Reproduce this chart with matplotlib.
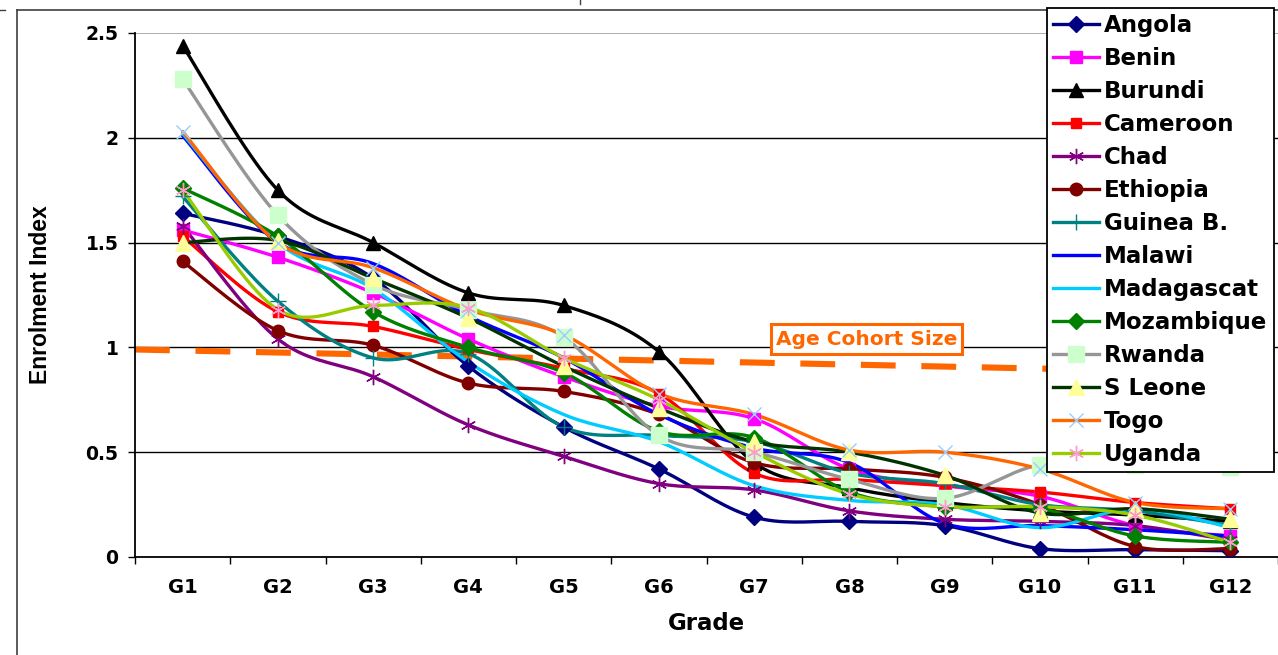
import matplotlib
matplotlib.use("Agg")
import matplotlib.pyplot as plt
from matplotlib.lines import Line2D
import numpy as np

plt.rcParams['font.family'] = ['DejaVu Sans']

grades = ["G1", "G2", "G3", "G4", "G5", "G6", "G7", "G8", "G9", "G10", "G11", "G12"]

angola = [1.64, 1.53, 1.33, 0.91, 0.62, 0.42, 0.19, 0.17, 0.15, 0.04, 0.035, 0.03]
benin = [1.56, 1.43, 1.26, 1.04, 0.86, 0.72, 0.66, 0.42, 0.34, 0.29, 0.15, 0.10]
burundi = [2.44, 1.75, 1.50, 1.26, 1.20, 0.98, 0.45, 0.33, 0.26, 0.22, 0.20, 0.17]
cameroon = [1.53, 1.17, 1.10, 0.99, 0.90, 0.78, 0.40, 0.37, 0.34, 0.31, 0.26, 0.23]
chad = [1.58, 1.04, 0.86, 0.63, 0.48, 0.35, 0.32, 0.22, 0.18, 0.17, 0.15, 0.08]
ethiopia = [1.41, 1.08, 1.01, 0.83, 0.79, 0.68, 0.45, 0.42, 0.38, 0.25, 0.05, 0.04]
guinea_b = [1.72, 1.22, 0.95, 0.97, 0.62, 0.58, 0.55, 0.40, 0.35, 0.25, 0.22, 0.15]
malawi = [2.01, 1.50, 1.40, 1.15, 0.95, 0.68, 0.52, 0.45, 0.16, 0.15, 0.13, 0.10]
madagascat = [2.02, 1.50, 1.28, 0.93, 0.68, 0.55, 0.34, 0.27, 0.25, 0.14, 0.23, 0.14]
mozambique = [1.76, 1.53, 1.17, 1.00, 0.88, 0.60, 0.57, 0.31, 0.24, 0.23, 0.10, 0.07]
rwanda = [2.28, 1.63, 1.30, 1.18, 1.05, 0.58, 0.50, 0.37, 0.28, 0.44, 0.44, 0.43]
s_leone = [1.50, 1.51, 1.33, 1.14, 0.91, 0.71, 0.55, 0.50, 0.39, 0.21, 0.23, 0.18]
togo = [2.03, 1.50, 1.38, 1.18, 1.06, 0.78, 0.68, 0.51, 0.50, 0.42, 0.26, 0.23]
uganda = [1.75, 1.18, 1.20, 1.19, 0.95, 0.75, 0.50, 0.30, 0.24, 0.24, 0.20, 0.07]

# age cohort reference line (left edge to right edge of the plot)
cohort_x = [-0.5, 11.5]
cohort_y = [0.99, 0.875]

series = [
    ("Angola", angola, dict(color="#000080", marker="D", mfc="#000080", mec="#000080", ms=8)),
    ("Benin", benin, dict(color="#FF00FF", marker="s", mfc="#FF00FF", mec="#FF00FF", ms=9)),
    ("Burundi", burundi, dict(color="#000000", marker="^", mfc="#000000", mec="#000000", ms=10)),
    ("Cameroon", cameroon, dict(color="#FF0000", marker="s", mfc="#FF0000", mec="#FF0000", ms=7)),
    ("Chad", chad, dict(color="#800080", marker=(6, 2, 0), mfc="#800080", mec="#800080", ms=11, mew=1)),
    ("Ethiopia", ethiopia, dict(color="#800000", marker="o", mfc="#800000", mec="#800000", ms=9)),
    ("Guinea B.", guinea_b, dict(color="#008080", marker="+", mec="#008080", ms=11, mew=1)),
    ("Malawi", malawi, dict(color="#0000FF", marker="None")),
    ("Madagascat", madagascat, dict(color="#00CCFF", marker="None")),
    ("Mozambique", mozambique, dict(color="#008000", marker="D", mfc="#008000", mec="#008000", ms=8)),
    ("Rwanda", rwanda, dict(color="#969696", marker="s", mfc="#CCFFCC", mec="#CCFFCC", ms=11)),
    ("S Leone", s_leone, dict(color="#003300", marker="^", mfc="#FFFF99", mec="#FFFF99", ms=11)),
    ("Togo", togo, dict(color="#FF6600", marker="x", mec="#99CCFF", ms=10, mew=1)),
    ("Uganda", uganda, dict(color="#99CC00", marker=(6, 2, 0), mec="#FF99CC", ms=11, mew=1)),
]


def smooth(xs, ys, n=20):
    """Catmull-Rom style bezier smoothing, like Excel's smoothed line."""
    xs = np.asarray(xs, float)
    ys = np.asarray(ys, float)
    px = np.concatenate([[xs[0]], xs, [xs[-1]]])
    py = np.concatenate([[ys[0]], ys, [ys[-1]]])
    outx, outy = [], []
    t = np.linspace(0, 1, n)
    for i in range(1, len(px) - 2):
        p0 = np.array([px[i], py[i]])
        p3 = np.array([px[i + 1], py[i + 1]])
        p1 = p0 + (p3 - np.array([px[i - 1], py[i - 1]])) / 6
        p2 = p3 - (np.array([px[i + 2], py[i + 2]]) - p0) / 6
        b = ((1 - t) ** 3)[:, None] * p0 + (3 * (1 - t) ** 2 * t)[:, None] * p1 \
            + (3 * (1 - t) * t ** 2)[:, None] * p2 + (t ** 3)[:, None] * p3
        outx.extend(b[:, 0])
        outy.extend(b[:, 1])
    return outx, outy


fig = plt.figure(figsize=(12.78, 6.55), dpi=100)
ax = fig.add_axes([135 / 1278, 1 - 557 / 655, 1 - 135 / 1278, (557 - 33) / 655])

x = np.arange(len(grades))
ax.set_ylim(0, 2.5)
ax.set_xlim(-0.5, 11.5)
ax.set_yticks([0, 0.5, 1, 1.5, 2, 2.5])
ax.set_yticklabels(["0", "0.5", "1", "1.5", "2", "2.5"], fontweight="bold", fontsize=13.5)
ax.set_xticks(x)
ax.set_xticklabels(grades, fontweight="bold", fontsize=14)
ax.set_xticks(np.arange(-0.5, 12, 1), minor=True)
ax.tick_params(axis="x", which="major", length=0, pad=15)
ax.tick_params(axis="x", which="minor", length=5, width=1, direction="out")
ax.tick_params(axis="y", length=5, width=1, direction="out", pad=7)
for yv in [0.5, 1, 1.5, 2]:
    ax.axhline(yv, color="black", lw=1, zorder=0)
ax.axhline(2.5, color="#a0a0a0", lw=1.2, zorder=0)
for s in ["top", "right"]:
    ax.spines[s].set_visible(False)
ax.spines["left"].set_linewidth(1.3)
ax.spines["bottom"].set_linewidth(1.3)

ax.plot(cohort_x, cohort_y, color="#FF6600", lw=4.4, dashes=(5.7, 4.2), zorder=1)

handles = []
for name, vals, st in series:
    sx, sy = smooth(x, vals)
    ax.plot(sx, sy, color=st["color"], lw=2.4, solid_capstyle="round", zorder=2)
    mk = {k: v for k, v in st.items() if k != "color"}
    if mk.get("marker") != "None":
        ax.plot(x, vals, ls="None", zorder=3, **mk)
    handles.append(Line2D([], [], color=st["color"], lw=2.4, **mk))

ax.text(7.18, 1.04, "Age Cohort Size", color="#FF6600", fontsize=14.5, fontweight="bold",
        ha="center", va="center", zorder=4,
        bbox=dict(boxstyle="square,pad=0.25", fc="white", ec="#FF6600", lw=2.2))

leg = fig.legend(handles, [s[0] for s in series], loc="upper left",
                 bbox_to_anchor=(1047 / 1278, 1 - 8 / 655), borderaxespad=0,
                 prop=dict(weight="bold", size=16.5), handlelength=2.0,
                 handletextpad=0.22, labelspacing=0.435, borderpad=0.27,
                 frameon=True, fancybox=False, framealpha=1)
leg.get_frame().set_edgecolor("black")
leg.get_frame().set_linewidth(1.3)

ax.set_xlabel("Grade", fontweight="bold", fontsize=16.5, labelpad=11)
ax.set_ylabel("Enrolment Index", fontweight="bold", fontsize=16.5,
              family=["Liberation Sans", "DejaVu Sans"])
ax.yaxis.set_label_coords(-(135 - 52) / (1278 - 135), 0.5)

# outer chart frame
fig.add_artist(Line2D([17 / 1278, 17 / 1278], [0, 1 - 10 / 655], color="#404040", lw=1.2))
fig.add_artist(Line2D([17 / 1278, 1], [1 - 10 / 655, 1 - 10 / 655], color="#404040", lw=1.2))
fig.add_artist(Line2D([0, 5 / 1278], [1 - 10 / 655, 1 - 10 / 655], color="#404040", lw=1))
fig.add_artist(Line2D([580 / 1278, 580 / 1278], [1, 1 - 4 / 655], color="#404040", lw=1))

fig.savefig("out.png", dpi=100)
